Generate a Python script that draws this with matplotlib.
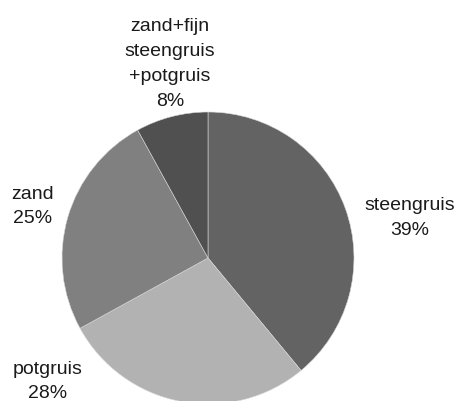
import matplotlib
matplotlib.use('Agg')
import matplotlib.pyplot as plt

# slice data, clockwise from 12 o'clock
labels = ['steengruis', 'potgruis', 'zand', 'zand+fijn\nsteengruis\n+potgruis']
shares = [39, 28, 25, 8]
colors = ['#636363', '#b2b2b2', '#808080', '#505050']

# label anchor points (pie units, radius = 1)
label_pos = [(1.384, 0.274), (-1.096, -0.846), (-1.205, 0.353), (-0.26, 1.329)]

plt.rcParams['font.family'] = ['Liberation Sans', 'DejaVu Sans']

fig = plt.figure(figsize=(4.58, 4.01), dpi=100)
# pie centre at (208, 258) px, radius 146 px
ax = fig.add_axes([62 / 458, (401 - 404) / 401, 292 / 458, 292 / 401])

wedges, _ = ax.pie(shares, colors=colors, startangle=90, counterclock=False,
                   wedgeprops=dict(edgecolor='#d8d8d8', linewidth=0.4))
ax.set_xlim(-1, 1)
ax.set_ylim(-1, 1)
ax.set_aspect('equal')
ax.axis('off')

for name, val, (x, y) in zip(labels, shares, label_pos):
    ax.text(x, y, f'{name}\n{val}%', ha='center', va='center', fontsize=14,
            linespacing=1.6, color='#1a1a1a', clip_on=False)

fig.savefig('out.png', dpi=100)
